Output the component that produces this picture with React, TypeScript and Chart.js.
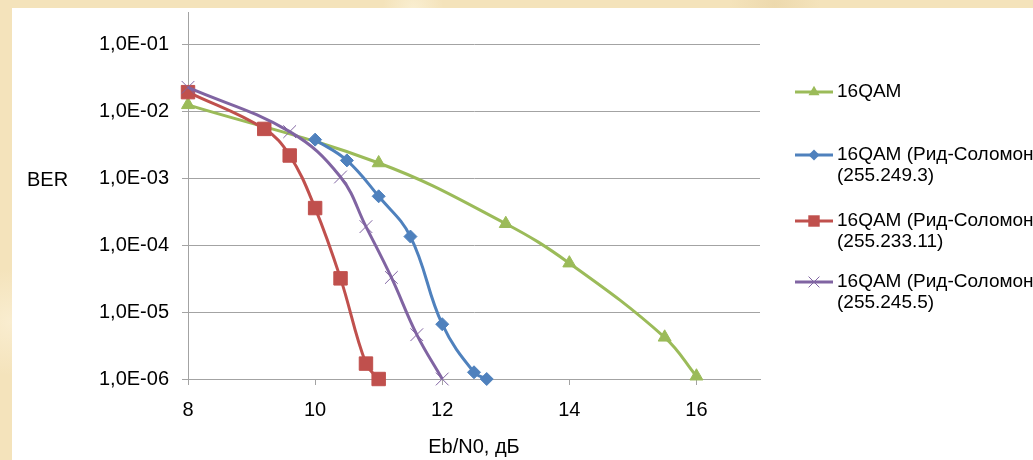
import React, { useEffect, useRef } from "react";
import { Chart, registerables } from "chart.js";

Chart.register(...registerables);

// ---- Data ----
const seriesNames = [
  ["16QAM"],
  ["16QAM (Рид-Соломон", "(255.249.3)"],
  ["16QAM (Рид-Соломон", "(255.233.11)"],
  ["16QAM (Рид-Соломон", "(255.245.5)"],
];

const xGreen = [8, 11, 13, 14, 15.5, 16];
const yGreen = [1.26e-2, 1.7e-3, 2.1e-4, 5.4e-5, 4.2e-6, 1.1e-6];

const xBlue = [10, 10.5, 11, 11.5, 12, 12.5, 12.7];
const yBlue = [3.8e-3, 1.86e-3, 5.4e-4, 1.35e-4, 6.6e-6, 1.26e-6, 1e-6];

const xRed = [8, 9.2, 9.6, 10, 10.4, 10.8, 11];
const yRed = [1.95e-2, 5.5e-3, 2.2e-3, 3.6e-4, 3.2e-5, 1.7e-6, 1e-6];

const xPurple = [8, 9.6, 10.4, 10.8, 11.2, 11.6, 12];
const yPurple = [2.3e-2, 5.0e-3, 1.05e-3, 1.9e-4, 3.3e-5, 4.6e-6, 1e-6];

const xTicks = [8, 10, 12, 14, 16];
const yTicks = [1e-6, 1e-5, 1e-4, 1e-3, 1e-2, 1e-1];

const xTitle = "Eb/N0, дБ";
const yTitle = "BER";

// ---- Styles ----
const COLORS = ["#9BBB59", "#4F81BD", "#C0504D", "#8064A2"];
const STYLES = ["triangle", "rectRot", "rect", "crossRot"];
const RADII = [7.5, 6.5, 9.5, 9];
const FONT = "'Liberation Sans', Arial, sans-serif";
const GRID = "#a3a3a3";

const toXY = (xs: number[], ys: number[]) => xs.map((x, i) => ({ x, y: ys[i] }));

const fmtY = (v: number) => {
  const e = Math.round(Math.log10(v));
  return "1,0E" + (e < 0 ? "-" : "+") + String(Math.abs(e)).padStart(2, "0");
};

function drawMarker(ctx: CanvasRenderingContext2D, style: string, cx: number, cy: number, r: number, color: string) {
  ctx.save();
  ctx.fillStyle = color;
  ctx.strokeStyle = color;
  ctx.lineWidth = 1;
  ctx.beginPath();
  if (style === "triangle") {
    ctx.moveTo(cx, cy - r);
    ctx.lineTo(cx + r * 0.866, cy + r / 2);
    ctx.lineTo(cx - r * 0.866, cy + r / 2);
    ctx.closePath();
    ctx.fill();
  } else if (style === "rectRot") {
    ctx.moveTo(cx, cy - r);
    ctx.lineTo(cx + r, cy);
    ctx.lineTo(cx, cy + r);
    ctx.lineTo(cx - r, cy);
    ctx.closePath();
    ctx.fill();
  } else if (style === "rect") {
    const s = Math.SQRT1_2 * r;
    ctx.rect(cx - s, cy - s, 2 * s, 2 * s);
    ctx.fill();
  } else {
    const d = Math.SQRT1_2 * r;
    ctx.moveTo(cx - d, cy - d);
    ctx.lineTo(cx + d, cy + d);
    ctx.moveTo(cx + d, cy - d);
    ctx.lineTo(cx - d, cy + d);
    ctx.stroke();
  }
  ctx.restore();
}

const legendPlugin = {
  id: "customLegend",
  afterDraw(chart: any) {
    const ctx: CanvasRenderingContext2D = chart.ctx;
    const itemY = [84, 147, 213, 274];
    const lineX0 = 783;
    const lineX1 = 821;
    const textX = 825;
    const lineGap = 21;
    ctx.save();
    ctx.textBaseline = "middle";
    ctx.textAlign = "left";
    seriesNames.forEach((lines, i) => {
      const y = itemY[i];
      ctx.strokeStyle = COLORS[i];
      ctx.lineWidth = 3;
      ctx.beginPath();
      ctx.moveTo(lineX0, y);
      ctx.lineTo(lineX1, y);
      ctx.stroke();
      drawMarker(ctx, STYLES[i], (lineX0 + lineX1) / 2, y, RADII[i] * 0.85, COLORS[i]);
      ctx.fillStyle = "#000";
      ctx.font = `19px ${FONT}`;
      lines.forEach((t, j) => ctx.fillText(t, textX, y + j * lineGap));
    });
    // vertical axis title (horizontal text)
    ctx.font = `20px ${FONT}`;
    ctx.fillText(yTitle, 15, 172);
    ctx.restore();
  },
};

export default function App() {
  const ref = useRef<HTMLCanvasElement>(null);

  useEffect(() => {
    if (!ref.current) return;
    const datasets = [
      { x: xGreen, y: yGreen },
      { x: xBlue, y: yBlue },
      { x: xRed, y: yRed },
      { x: xPurple, y: yPurple },
    ].map((s, i) => ({
      label: seriesNames[i].join(" "),
      data: toXY(s.x, s.y),
      borderColor: COLORS[i],
      backgroundColor: COLORS[i],
      borderWidth: 3,
      pointStyle: STYLES[i] as any,
      pointRadius: RADII[i],
      pointBorderWidth: 1,
      pointBackgroundColor: COLORS[i],
      pointBorderColor: COLORS[i],
      tension: 0.4,
      order: 3 - i,
      clip: false as any,
    }));

    const chart = new Chart(ref.current, {
      type: "line",
      data: { datasets },
      options: {
        responsive: false,
        animation: false,
        devicePixelRatio: 1,
        layout: { autoPadding: false, padding: { top: 4, right: 273, left: 0, bottom: 0 } },
        plugins: { legend: { display: false }, tooltip: { enabled: false } },
        scales: {
          x: {
            type: "linear",
            min: 8,
            max: 17,
            afterBuildTicks: (s: any) => {
              s.ticks = xTicks.map((v) => ({ value: v }));
            },
            afterFit: (s: any) => {
              s.height = 81;
              s.paddingLeft = 0;
              s.paddingRight = 0;
            },
            grid: { drawOnChartArea: false, drawTicks: true, tickLength: 6, color: GRID, lineWidth: 1 },
            border: { display: true, color: GRID, width: 1 },
            ticks: { font: { family: FONT, size: 20 }, color: "#000", padding: 13, maxRotation: 0, autoSkip: false },
            title: { display: true, text: xTitle, font: { family: FONT, size: 20 }, color: "#000", padding: { top: 0, bottom: 1 } },
          },
          y: {
            type: "logarithmic",
            min: 1e-6,
            max: 0.308,
            afterBuildTicks: (s: any) => {
              s.ticks = yTicks.map((v) => ({ value: v }));
            },
            afterFit: (s: any) => {
              s.width = 176;
              s.paddingTop = 0;
              s.paddingBottom = 0;
            },
            grid: { drawOnChartArea: true, drawTicks: true, tickLength: 6, color: GRID, lineWidth: 1 },
            border: { display: true, color: GRID, width: 1 },
            ticks: {
              font: { family: FONT, size: 20 },
              color: "#000",
              padding: 13,
              autoSkip: false,
              callback: (v: any) => fmtY(Number(v)),
            },
          },
        },
      },
      plugins: [legendPlugin],
    });
    return () => chart.destroy();
  }, []);

  return (
    <div
      style={{
        position: "fixed",
        left: 0,
        top: 0,
        width: 1033,
        height: 460,
        overflow: "hidden",
        backgroundColor: "#f4e3bb",
        backgroundImage:
          "radial-gradient(circle at 10% 20%, rgba(252,244,222,0.8) 0, rgba(252,244,222,0) 6%)," +
          "radial-gradient(circle at 40% 2%, rgba(250,240,212,0.9) 0, rgba(250,240,212,0) 4%)," +
          "radial-gradient(circle at 75% 1%, rgba(236,216,172,0.9) 0, rgba(236,216,172,0) 5%)," +
          "radial-gradient(circle at 1% 70%, rgba(250,238,210,0.9) 0, rgba(250,238,210,0) 5%)",
      }}
    >
      <div style={{ position: "absolute", left: 12, top: 8, width: 1021, height: 452, background: "#fff" }}>
        <canvas ref={ref} width={1021} height={452} style={{ display: "block", width: 1021, height: 452 }} />
      </div>
    </div>
  );
}
